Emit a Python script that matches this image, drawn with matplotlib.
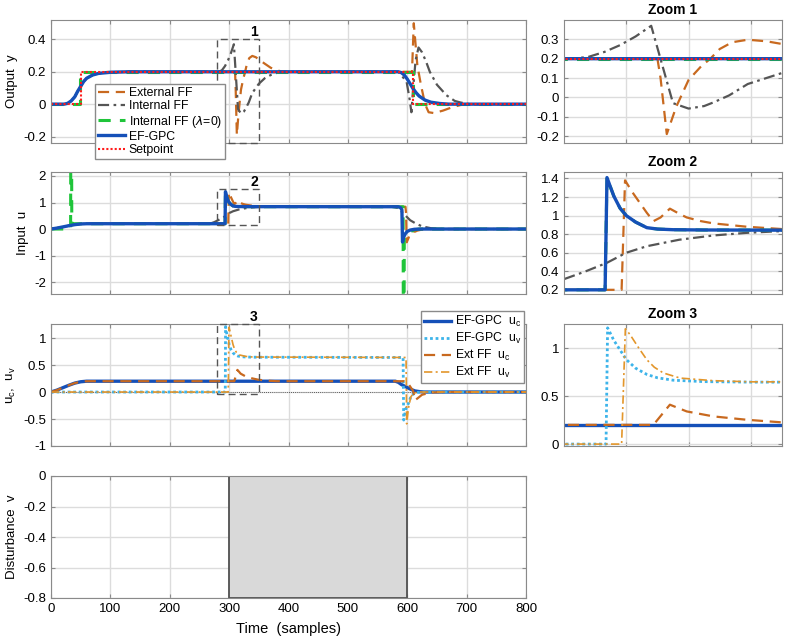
import numpy as np
import matplotlib.pyplot as plt
from matplotlib.patches import Rectangle

plt.rcParams['font.family'] = ['Liberation Sans', 'DejaVu Sans']
plt.rcParams['axes.unicode_minus'] = False
plt.rcParams['font.size'] = 9.5

# ---------------- datos ----------------
# salida y
t_y_ef = [0, 22, 28, 34, 40, 45, 50, 55, 60, 70, 80, 100, 130, 585, 590, 595, 600,
          605, 610, 615, 620, 630, 640, 655, 670, 800]
y_ef = [0, 0, 0.005, 0.02, 0.045, 0.08, 0.11, 0.14, 0.16, 0.18, 0.19, 0.197, 0.2, 0.2,
        0.195, 0.18, 0.155, 0.125, 0.095, 0.07, 0.05, 0.025, 0.012, 0.004, 0, 0]

t_y_ext = [0, 22, 28, 34, 40, 45, 50, 55, 60, 70, 80, 100, 130, 310, 311, 313, 316,
           320, 324, 327, 330, 334, 339, 345, 350, 360, 370, 380, 390, 608, 611, 617,
           623, 630, 636, 645, 660, 675, 690, 710, 800]
y_ext = [0, 0, 0.005, 0.02, 0.045, 0.08, 0.11, 0.14, 0.16, 0.18, 0.19, 0.197, 0.2, 0.2,
         0.1, -0.19, -0.05, 0.09, 0.16, 0.2, 0.25, 0.285, 0.298, 0.29, 0.276, 0.25, 0.225,
         0.21, 0.2, 0.2, 0.5, 0.24, 0.12, 0.0, -0.05, -0.055, -0.04, -0.02, -0.005, 0, 0]

t_y_int = [0, 22, 28, 34, 40, 45, 50, 55, 60, 70, 80, 100, 130, 283, 288, 293, 298,
           303, 308, 311.5, 315, 320, 325, 328, 333, 339, 345, 350, 360, 370, 380, 390,
           585, 592, 599, 604, 607, 610, 614, 619, 625, 632, 638, 650, 666, 680, 690,
           705, 800]
y_int = [0, 0, 0.005, 0.02, 0.045, 0.08, 0.11, 0.14, 0.16, 0.18, 0.19, 0.197, 0.2, 0.2,
         0.21, 0.235, 0.27, 0.315, 0.37, 0.17, -0.03, -0.058, -0.045, -0.026, 0.01, 0.069,
         0.1, 0.126, 0.16, 0.18, 0.193, 0.2, 0.2, 0.17, 0.137, 0.03, -0.05, 0.1, 0.27,
         0.35, 0.32, 0.26, 0.2, 0.12, 0.055, 0.02, 0.01, 0, 0]

t_y_int0 = [0, 49, 49, 609, 609, 800]
y_int0 = [0, 0, 0.2, 0.2, 0, 0]

t_sp = [0, 50, 50, 610, 610, 800]
sp = [0, 0, 0.2, 0.2, 0, 0]

# entrada u
t_u_ef = [0, 10, 20, 30, 40, 50, 60, 293.2, 293.8, 295, 296, 298, 300, 303, 306.6,
          310, 315, 325, 350, 585, 589, 591, 592, 594, 597, 600, 605, 612, 625, 800]
u_ef = [0, 0.035, 0.08, 0.125, 0.165, 0.19, 0.2, 0.2, 1.41, 1.3, 1.21, 1.08, 1.0, 0.93,
        0.87, 0.855, 0.848, 0.845, 0.843, 0.84, 0.8, 0.72, -0.49, -0.3, -0.17, -0.09,
        -0.04, -0.01, 0, 0]

t_u_ext = [0, 10, 20, 30, 40, 50, 60, 298.5, 299.6, 302, 304.5, 306.6, 308.7, 311, 314,
           317, 319.4, 324, 328, 338.7, 350, 365, 380, 597, 598, 599, 602, 605, 609, 613,
           617, 625, 640, 800]
u_ext = [0, 0.035, 0.08, 0.125, 0.165, 0.19, 0.2, 0.2, 1.38, 1.25, 1.13, 1.03, 0.94,
         0.98, 1.075, 1.02, 0.98, 0.94, 0.916, 0.88, 0.855, 0.845, 0.84, 0.84, 0.6, -0.5,
         -0.35, -0.15, -0.08, -0.1, -0.06, -0.02, 0, 0]

t_u_int = [0, 10, 20, 30, 40, 50, 60, 265, 270, 275, 280, 287, 293.7, 300, 306.6, 317,
           328, 339, 350, 365, 575, 585, 595, 605, 615, 625, 640, 660, 800]
u_int = [0, 0.035, 0.08, 0.125, 0.165, 0.19, 0.2, 0.2, 0.22, 0.26, 0.315, 0.4, 0.49, 0.6,
         0.67, 0.74, 0.786, 0.815, 0.833, 0.84, 0.84, 0.79, 0.55, 0.33, 0.2, 0.1, 0.03,
         0, 0]

t_u_int0 = [0, 33, 33.5, 34.5, 35, 293.2, 293.8, 295, 296, 298, 300, 303, 306.6, 310,
            315, 325, 350, 593, 593.5, 594.5, 595, 600, 605, 612, 620, 800]
u_int0 = [0, 0, 5, 5, 0.2, 0.2, 1.41, 1.3, 1.21, 1.08, 1.0, 0.93, 0.87, 0.855, 0.848,
          0.845, 0.843, 0.84, -5, -5, -0.35, -0.2, -0.1, -0.03, 0, 0]

# componentes uc, uv
t_uc_ef = [0, 10, 20, 30, 40, 50, 60, 580, 585, 590, 597, 605, 613, 622, 630, 800]
uc_ef = [0, 0.035, 0.08, 0.125, 0.165, 0.19, 0.2, 0.2, 0.18, 0.14, 0.1, 0.055, 0.02,
         0.005, 0, 0]

t_uv_ef = [0, 293.5, 294, 296, 298, 300, 303, 306.6, 310, 315, 325, 340, 593, 594, 598,
           602, 607, 615, 625, 800]
uv_ef = [0, 0, 1.21, 1.08, 0.98, 0.88, 0.79, 0.725, 0.69, 0.665, 0.65, 0.645, 0.64,
         -0.52, -0.3, -0.21, -0.06, -0.01, 0, 0]

t_uc_ext = [0, 10, 20, 30, 40, 50, 60, 308.7, 314, 319.4, 328, 338.7, 350, 365, 380,
            595, 600, 605, 610, 613, 617, 625, 640, 660, 800]
uc_ext = [0, 0.035, 0.08, 0.125, 0.165, 0.19, 0.2, 0.2, 0.41, 0.34, 0.288, 0.253, 0.226,
          0.21, 0.2, 0.2, 0.18, 0.1, 0.02, -0.15, -0.12, -0.05, -0.01, 0, 0]

t_uv_ext = [0, 298.5, 299.7, 301.2, 304, 306.6, 309, 311.9, 317.3, 328, 340, 598, 599,
            602, 606, 611, 620, 800]
uv_ext = [0, 0, 1.2, 1.14, 1.0, 0.878, 0.8, 0.74, 0.687, 0.66, 0.648, 0.64, -0.59, -0.3,
          -0.09, -0.02, 0, 0]

# perturbacion v
t_v = [0, 300, 300, 600, 600, 800]
v = [0, 0, -0.8, -0.8, 0, 0]

# ---------------- estilos ----------------
c_ef = '#1550b8'
c_ext = '#c8691f'
c_int = '#555555'
c_int0 = '#1fc43a'
c_sp = '#ff1a1a'
c_uv = '#3db4ea'
c_uvx = '#e3962b'
grid_c = '#dcdcdc'
spine_c = '#8a8a8a'

W, H = 790, 643
fig = plt.figure(figsize=(W / 100, H / 100), dpi=100)

def fx(px):
    return px / W

def fy(py):
    return 1 - py / H

rows = [(20, 143), (172, 294), (324, 446), (476, 598)]
main_ax = []
zoom_ax = []
for i, (top, bot) in enumerate(rows):
    a = fig.add_axes([fx(51), fy(bot), fx(526 - 51), (bot - top) / H])
    main_ax.append(a)
    if i < 3:
        z = fig.add_axes([fx(564), fy(bot), fx(782 - 564), (bot - top) / H])
        zoom_ax.append(z)

def style(a):
    a.grid(True, color=grid_c, lw=1.0)
    a.set_axisbelow(True)
    for s in a.spines.values():
        s.set_color(spine_c)
        s.set_linewidth(0.8)
    a.tick_params(direction='in', length=3, color=spine_c, labelsize=9.5,
                  top=True, right=True)

for a in main_ax:
    a.set_xlim(0, 800)
    a.set_xticks(np.arange(0, 801, 100))
    style(a)
for a in main_ax[:3]:
    a.set_xticklabels([])
for z in zoom_ax:
    z.set_xlim(280, 350)
    z.set_xticks([300, 320, 340])
    z.set_xticklabels([])
    style(z)

dash_ext = (0, (5, 3))
dashdot_int = (0, (5, 2, 1.2, 2))

leg_kw = dict(bbox_transform=fig.transFigure, borderaxespad=0, fancybox=False,
              framealpha=1, edgecolor=spine_c, fontsize=8.8, handlelength=2.2,
              handletextpad=0.3, borderpad=0.25)

# ---- fila 1: salida ----
for a in (main_ax[0], zoom_ax[0]):
    a.plot(t_y_ext, y_ext, color=c_ext, lw=1.6, ls=dash_ext, label='External FF')
    a.plot(t_y_int, y_int, color=c_int, lw=1.6, ls=dashdot_int, label='Internal FF')
    a.plot(t_y_int0, y_int0, color=c_int0, lw=2.2, ls=(0, (4, 3)),
           label=r'Internal FF ($\lambda$=0)')
    a.plot(t_y_ef, y_ef, color=c_ef, lw=2.4, label='EF-GPC')
    a.plot(t_sp, sp, color=c_sp, lw=1.5, ls=(0, (1, 1)), label='Setpoint')
main_ax[0].set_ylim(-0.24, 0.52)
main_ax[0].set_yticks([-0.2, 0, 0.2, 0.4])
main_ax[0].set_yticklabels(['-0.2', '0', '0.2', '0.4'])
main_ax[0].set_ylabel('Output  y')
zoom_ax[0].set_ylim(-0.236, 0.4)
zoom_ax[0].set_yticks([-0.2, -0.1, 0, 0.1, 0.2, 0.3])
zoom_ax[0].set_yticklabels(['-0.2', '-0.1', '0', '0.1', '0.2', '0.3'])
main_ax[0].legend(loc='upper left', bbox_to_anchor=(fx(95), fy(84)),
                  labelspacing=0.1, **leg_kw)

# ---- fila 2: entrada ----
for a in (main_ax[1], zoom_ax[1]):
    a.plot(t_u_ext, u_ext, color=c_ext, lw=1.6, ls=dash_ext)
    a.plot(t_u_int, u_int, color=c_int, lw=1.6, ls=dashdot_int)
    a.plot(t_u_int0, u_int0, color=c_int0, lw=2.2, ls=(0, (4, 3)))
    a.plot(t_u_ef, u_ef, color=c_ef, lw=2.4)
main_ax[1].set_ylim(-2.45, 2.15)
main_ax[1].set_yticks([-2, -1, 0, 1, 2])
main_ax[1].set_ylabel('Input  u')
zoom_ax[1].set_ylim(0.155, 1.47)
zoom_ax[1].set_yticks([0.2, 0.4, 0.6, 0.8, 1.0, 1.2, 1.4])
zoom_ax[1].set_yticklabels(['0.2', '0.4', '0.6', '0.8', '1', '1.2', '1.4'])

# ---- fila 3: uc, uv ----
main_ax[2].axhline(0, color='#333333', lw=0.6, ls=(0, (1, 1.5)))
for a in (main_ax[2], zoom_ax[2]):
    a.plot(t_uc_ef, uc_ef, color=c_ef, lw=2.4, label=r'EF-GPC  u$_\mathregular{c}$')
    a.plot(t_uv_ef, uv_ef, color=c_uv, lw=2.0, ls=(0, (1, 1)),
           label=r'EF-GPC  u$_\mathregular{v}$')
    a.plot(t_uc_ext, uc_ext, color=c_ext, lw=1.6, ls=dash_ext,
           label=r'Ext FF  u$_\mathregular{c}$')
    a.plot(t_uv_ext, uv_ext, color=c_uvx, lw=1.2, ls=(0, (5, 2, 1.2, 2)),
           label=r'Ext FF  u$_\mathregular{v}$')
main_ax[2].set_ylim(-1, 1.26)
main_ax[2].set_yticks([-1, -0.5, 0, 0.5, 1])
main_ax[2].set_yticklabels(['-1', '-0.5', '0', '0.5', '1'])
main_ax[2].set_ylabel(r'u$_\mathregular{c}$,  u$_\mathregular{v}$')
zoom_ax[2].set_ylim(-0.02, 1.25)
zoom_ax[2].set_yticks([0, 0.5, 1])
zoom_ax[2].set_yticklabels(['0', '0.5', '1'])
main_ax[2].legend(loc='upper right', bbox_to_anchor=(fx(524), fy(311)),
                  labelspacing=0.15, **leg_kw)

# ---- fila 4: perturbacion ----
main_ax[3].fill_between(t_v, v, 0, facecolor='#d9d9d9', edgecolor='none')
main_ax[3].plot(t_v, v, color='#505050', lw=1.3)
main_ax[3].set_ylim(-0.8, 0)
main_ax[3].set_yticks([-0.8, -0.6, -0.4, -0.2, 0])
main_ax[3].set_yticklabels(['-0.8', '-0.6', '-0.4', '-0.2', '0'])
main_ax[3].set_ylabel('Disturbance  v')
main_ax[3].set_xlabel('Time  (samples)', fontsize=10.5, labelpad=5)

# cajas de zoom
boxes = [(-0.24, 0.4), (0.15, 1.5), (-0.04, 1.26)]
for k, (a, (lo, hi)) in enumerate(zip(main_ax[:3], boxes)):
    a.add_patch(Rectangle((280, lo), 70, hi - lo, fill=False, ls=(0, (5, 3)),
                          ec='#555555', lw=1.0, zorder=5, clip_on=False))
    a.text(342, hi, str(k + 1), ha='center', va='bottom', fontweight='bold',
           fontsize=10)

for k, z in enumerate(zoom_ax):
    z.set_title('Zoom %d' % (k + 1), fontweight='bold', fontsize=10, pad=4)

fig.savefig('out.png', dpi=100)
